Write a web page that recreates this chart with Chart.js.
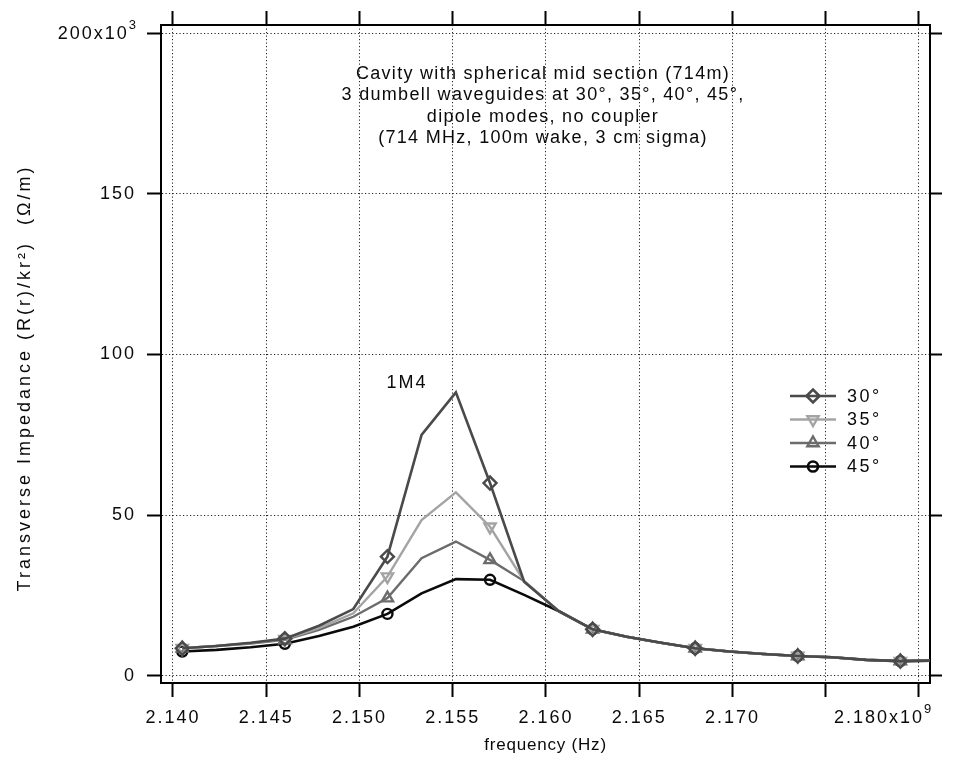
<!DOCTYPE html>
<html lang="en">
<head>
    <meta charset="UTF-8">
    <title>Transverse Impedance vs frequency</title>
    <script src="https://cdn.jsdelivr.net/npm/chart.js"></script>
    <style>
        body { margin: 0; background: #fff; }
        .chart-container { position: relative; width: 968px; height: 761px; }
    </style>
</head>
<body>
    <div class="chart-container">
        <canvas id="impChart"></canvas>
    </div>

    <script>
        // frequency samples (GHz), markers on every third sample
        var freq = [2.1405, 2.14233, 2.14417, 2.1460, 2.14783, 2.14967, 2.1515, 2.15333, 2.15517, 2.1570, 2.15883, 2.16067,
                    2.1625, 2.16433, 2.16617, 2.1680, 2.16983, 2.17167, 2.1735, 2.17533, 2.17717, 2.1790, 2.18083];

        // impedance in units of 10^3 Ohm/m
        var imp30 = [8.6, 9.3, 10.3, 11.6, 15.6, 20.8, 37.1, 75.0, 88.2, 60.0, 29.3, 20.2,
                     14.5, 12.2, 10.3, 8.6, 7.6, 6.8, 6.2, 5.8, 5.0, 4.6, 4.8];
        var imp35 = [8.6, 9.3, 10.2, 11.4, 14.9, 19.5, 30.9, 48.5, 57.1, 46.4, 29.5, 20.2,
                     14.5, 12.2, 10.3, 8.6, 7.6, 6.8, 6.2, 5.8, 5.0, 4.6, 4.8];
        var imp40 = [8.6, 9.3, 10.1, 11.2, 14.3, 18.4, 24.2, 36.6, 41.8, 36.1, 29.5, 20.2,
                     14.5, 12.2, 10.3, 8.6, 7.6, 6.8, 6.2, 5.8, 5.0, 4.6, 4.8];
        var imp45 = [7.6, 8.1, 8.9, 10.0, 12.4, 15.3, 19.3, 25.7, 30.1, 29.9, 25.2, 20.2,
                     14.5, 12.2, 10.3, 8.6, 7.6, 6.8, 6.2, 5.8, 5.0, 4.6, 4.8];

        var seriesNames = ["30°", "35°", "40°", "45°"];

        var xTicks = [2.140, 2.145, 2.150, 2.155, 2.160, 2.165, 2.170, 2.175, 2.180];
        var xTickLabels = ["2.140", "2.145", "2.150", "2.155", "2.160", "2.165", "2.170", "", "2.180"];
        var xExponent = "9";
        var yTicks = [0, 50, 100, 150, 200];
        var yTickLabels = ["0", "50", "100", "150", "200"];
        var yExponent = "3";

        var titleLines = [
            "Cavity with spherical mid section (714m)",
            "3 dumbell waveguides at 30°, 35°, 40°, 45°,",
            "dipole modes, no coupler",
            "(714 MHz, 100m wake, 3 cm sigma)"
        ];
        var peakLabel = "1M4";
        var yTitle = "Transverse Impedance (R(r)/kr²)  (Ω/m)";
        var xTitle = "frequency (Hz)";

        var FONT = '"Liberation Sans", Arial, sans-serif';
        var INK = "#0a0a0a";

        function pts(vals) {
            return freq.map(function (f, i) { return { x: f, y: vals[i] }; });
        }

        function ds(label, vals, color, width, style, rot, rad) {
            return {
                label: label,
                data: pts(vals),
                borderColor: color,
                borderWidth: width,
                pointStyle: style,
                pointRotation: rot,
                pointRadius: function (c) { return c.dataIndex % 3 === 0 ? rad : 0; },
                pointBorderWidth: 2.4,
                pointBorderColor: color,
                pointBackgroundColor: "rgba(0,0,0,0)",
                tension: 0
            };
        }

        var datasets = [
            ds(seriesNames[0], imp30, "#4a4a4a", 2.6, "rectRot", 0, 6.5),
            ds(seriesNames[1], imp35, "#a4a4a4", 2.4, "triangle", 180, 6.5),
            ds(seriesNames[2], imp40, "#6c6c6c", 2.4, "triangle", 0, 6.5),
            ds(seriesNames[3], imp45, "#0a0a0a", 2.6, "circle", 0, 5)
        ];

        var xMin = 2.13936, xMax = 2.18059, yMin = -2.2, yMax = 202.5;

        function setTicks(list) {
            return function (s) { s.ticks = list.map(function (v) { return { value: v }; }); };
        }

        var grid = { color: "#222", lineWidth: 1, tickColor: "#000",
                     tickWidth: 2, tickLength: 14, tickBorderDash: [] };
        var frame = { display: true, color: "#000", width: 2, dash: [1.2, 2.3] };

        function lastBlank(labels) {
            return function (v, i) { return i === labels.length - 1 ? "" : labels[i]; };
        }

        function drawPow(ctx, base, exp, x, y, align) {
            ctx.font = "18px " + FONT;
            var w1 = ctx.measureText(base).width;
            ctx.font = "13px " + FONT;
            var w2 = ctx.measureText(exp).width;
            var x0 = align === "right" ? x - w1 - w2 : x;
            ctx.textAlign = "left";
            ctx.font = "18px " + FONT;
            ctx.fillText(base, x0, y);
            ctx.font = "13px " + FONT;
            ctx.fillText(exp, x0 + w1, y - 9);
        }

        // annotations, legend and special labels
        var overlay = {
            id: "overlay",
            beforeDraw: function (chart) {
                var ctx = chart.ctx;
                ctx.save();
                ctx.fillStyle = "#fff";
                ctx.fillRect(0, 0, chart.width, chart.height);
                ctx.restore();
                ctx.letterSpacing = "2px";
            },
            afterDraw: function (chart) {
                var ctx = chart.ctx;
                ctx.save();
                ctx.fillStyle = INK;
                ctx.textBaseline = "middle";

                // title block
                ctx.letterSpacing = "1.3px";
                ctx.font = "18px " + FONT;
                ctx.textAlign = "center";
                titleLines.forEach(function (t, i) { ctx.fillText(t, 543, 74 + i * 21.5); });

                ctx.letterSpacing = "2px";
                ctx.fillText(peakLabel, 407, 383);

                // exponent labels
                var sx = chart.scales.x, sy = chart.scales.y;
                drawPow(ctx, xTickLabels[xTickLabels.length - 1] + "x10", xExponent, 834, 718, "left");
                drawPow(ctx, yTickLabels[yTickLabels.length - 1] + "x10", yExponent, 138,
                        sy.getPixelForValue(yTicks[yTicks.length - 1]) + 1, "right");

                // x title
                ctx.letterSpacing = "0.8px";
                ctx.font = "17px " + FONT;
                ctx.textAlign = "center";
                ctx.fillText(xTitle, (sx.left + sx.right) / 2, 745);

                // y title
                ctx.letterSpacing = "3px";
                ctx.font = "18px " + FONT;
                ctx.save();
                ctx.translate(25, 378);
                ctx.rotate(-Math.PI / 2);
                ctx.textAlign = "center";
                ctx.fillText(yTitle, 0, 0);
                ctx.restore();

                // legend
                ctx.font = "18px " + FONT;
                ctx.textAlign = "left";
                ctx.letterSpacing = "2.5px";
                chart.data.datasets.forEach(function (d, i) {
                    var y = 396 + i * 23.5;
                    ctx.strokeStyle = d.borderColor;
                    ctx.lineWidth = d.borderWidth;
                    ctx.beginPath();
                    ctx.moveTo(790, y);
                    ctx.lineTo(836, y);
                    ctx.stroke();
                    ctx.fillStyle = "rgba(0,0,0,0)";
                    Chart.helpers.drawPoint(ctx, {
                        pointStyle: d.pointStyle,
                        rotation: d.pointRotation,
                        radius: d.pointStyle === "circle" ? 5 : 6.5,
                        borderWidth: 2.4
                    }, 813, y);
                    ctx.fillStyle = INK;
                    ctx.fillText(d.label, 847, y + 1);
                });
                ctx.restore();
            }
        };

        var ctx = document.getElementById("impChart").getContext("2d");
        var impChart = new Chart(ctx, {
            type: "line",
            data: { datasets: datasets },
            options: {
                responsive: true,
                maintainAspectRatio: false,
                animation: false,
                events: [],
                layout: { padding: 0 },
                plugins: { legend: { display: false }, tooltip: { enabled: false } },
                scales: {
                    x: {
                        type: "linear", position: "bottom", min: xMin, max: xMax,
                        afterBuildTicks: setTicks(xTicks),
                        afterFit: function (s) { s.height = 78; },
                        grid: grid, border: frame,
                        ticks: {
                            color: INK, padding: 10, maxRotation: 0, autoSkip: false,
                            font: { family: FONT, size: 18 },
                            callback: lastBlank(xTickLabels)
                        }
                    },
                    x2: {
                        type: "linear", position: "top", min: xMin, max: xMax,
                        afterBuildTicks: setTicks(xTicks),
                        afterFit: function (s) { s.height = 25; },
                        grid: Object.assign({}, grid, { drawOnChartArea: false }), border: frame,
                        ticks: { display: false }
                    },
                    y: {
                        type: "linear", position: "left", min: yMin, max: yMax,
                        afterBuildTicks: setTicks(yTicks),
                        afterFit: function (s) { s.width = 161; },
                        grid: grid, border: frame,
                        ticks: {
                            color: INK, padding: 11,
                            font: { family: FONT, size: 18 },
                            callback: lastBlank(yTickLabels)
                        }
                    },
                    y2: {
                        type: "linear", position: "right", min: yMin, max: yMax,
                        afterBuildTicks: setTicks(yTicks),
                        afterFit: function (s) { s.width = 38; },
                        grid: Object.assign({}, grid, { drawOnChartArea: false, tickLength: 12 }), border: frame,
                        ticks: { display: false }
                    }
                }
            },
            plugins: [overlay]
        });
    </script>
</body>
</html>
